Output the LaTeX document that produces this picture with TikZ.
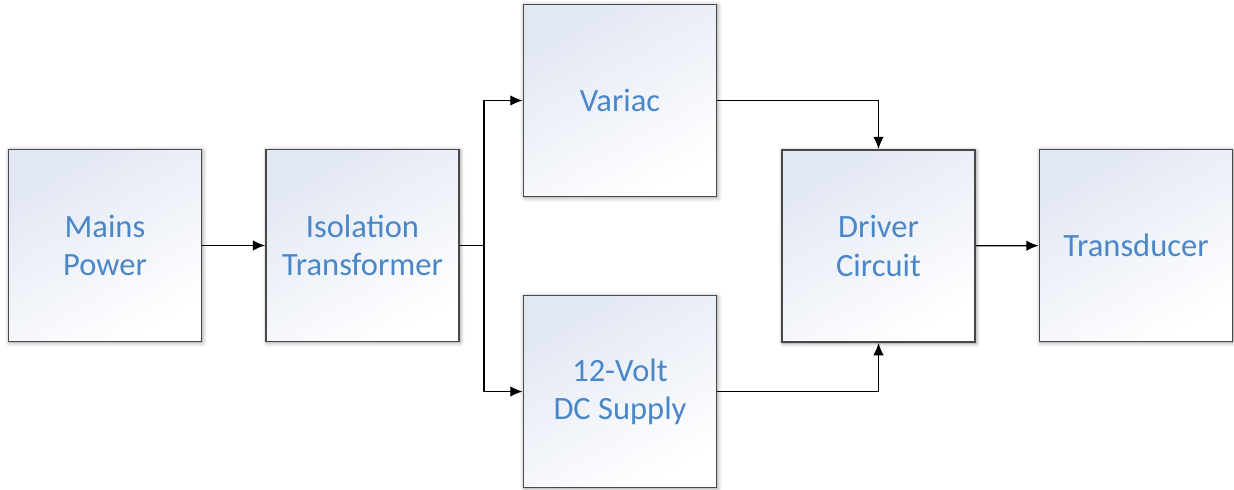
\documentclass[tikz,border=0pt]{standalone}
\usepackage{fontspec}
\setmainfont{Carlito}
\usetikzlibrary{positioning,arrows.meta,calc,shadows.blur}
\definecolor{boxtop}{HTML}{E1E7F3}
\definecolor{boxline}{HTML}{484848}
\definecolor{labelblue}{HTML}{4A87C8}

\begin{document}
\begin{tikzpicture}[x=0.02cm,y=-0.02cm,
  blk/.style={draw=boxline,line width=1.1pt,top color=boxtop,bottom color=white,shading angle=30,
    minimum width=3.86cm,minimum height=3.84cm,inner sep=0pt,align=center,
    text=labelblue,font=\fontsize{18.5}{21.8}\selectfont,
    blur shadow={shadow xshift=0.6pt,shadow yshift=-0.6pt,shadow blur radius=2.5pt,shadow opacity=45}},
  conn/.style={line width=0.75pt,-{Latex[length=7pt,width=6pt]}}]
\useasboundingbox (0,0) rectangle (1234,490);
% blocks
\node[blk] (mains)   at (105,245.5)  {Mains\\Power};
\node[blk] (iso)     at (362.5,245.5){Isolation\\Transformer};
\node[blk] (variac)  at (620,100.5)  {Variac};
\node[blk] (dc)      at (620,391.5)  {12-Volt\\DC Supply};
\node[blk] (driver)  at (878.5,246)  {Driver\\Circuit};
\node[blk] (trans)   at (1136,245.5) {Transducer};
% connections
\coordinate (split) at (484,245.5);
\draw[conn] (mains) -- (iso);
\draw[line width=0.75pt] (iso.east) -- (split);
\draw[conn] (split) |- (variac.west);
\draw[conn] (split) |- (dc.west);
\draw[conn] (variac.east) -| (driver.north);
\draw[conn] (dc.east) -| (driver.south);
\draw[conn] (driver) -- (trans);
\end{tikzpicture}
\end{document}
